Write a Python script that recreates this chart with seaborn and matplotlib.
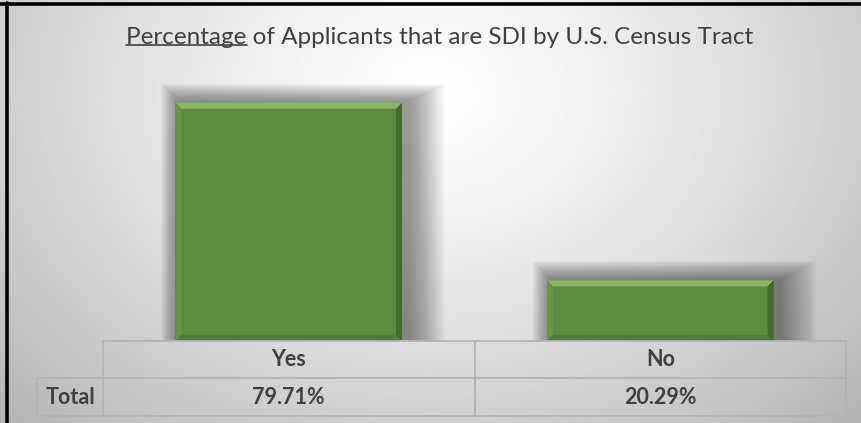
import numpy as np
import pandas as pd
import matplotlib
matplotlib.use("Agg")
import matplotlib.pyplot as plt
import seaborn as sns
from matplotlib.patches import Rectangle, Polygon
from matplotlib.lines import Line2D
import matplotlib.transforms as mtransforms

# data
categories = ["Yes", "No"]
percentages = [79.71, 20.29]
row_label = "Total"
title = "Percentage of Applicants that are SDI by U.S. Census Tract"
title_underlined = "Percentage"

df = pd.DataFrame({"answer": categories, "pct": percentages})

sns.set_style("white")
plt.rcParams["font.family"] = ["Lato", "DejaVu Sans"]

W, H = 861, 423
fig = plt.figure(figsize=(W / 100, H / 100), dpi=100)

# background gradient
bg = fig.add_axes([0, 0, 1, 1], zorder=-10)
yy, xx = np.mgrid[0:1:300j, 0:1:600j]
r = np.sqrt(((xx - 0.5) / 0.6) ** 2 + ((yy - 0.22) / 0.95) ** 2)
v = 1.0 - 0.24 * np.clip(r, 0, 1.2) ** 1.3
bg.imshow(v, cmap="gray", vmin=0, vmax=1, aspect="auto", extent=[0, 1, 1, 0])
bg.set_xlim(0, 1)
bg.set_ylim(1, 0)
bg.axis("off")

# outer frame (top and left)
fig.add_artist(Line2D([0, 1], [1 - 4.5 / H, 1 - 4.5 / H], color="black", lw=2.6))
fig.add_artist(Line2D([6.5 / W, 6.5 / W], [0, 1 - 3 / H], color="black", lw=2.6))

left, right = 103 / W, 846 / W
bottom, top = 1 - 341 / H, 1 - 72 / H
ax = fig.add_axes([left, bottom, right - left, top - bottom])
ax.patch.set_alpha(0)

sns.barplot(data=df, x="answer", y="pct", color="#5b8b3d", width=0.61,
            saturation=1, linewidth=0, ax=ax, zorder=5)
ax.set_xlim(-0.5, 1.5)
ax.set_ylim(0, 90)
ax.axis("off")

# pixel -> data sizes
px_x = 2.0 / (W * (right - left))
px_y = 90.0 / (H * (top - bottom))

for p in list(ax.patches)[:len(categories)]:
    x0, w, h = p.get_x(), p.get_width(), p.get_height()
    # soft shadow, stronger to the right
    n = 36
    for k in range(n):
        ax.add_patch(Rectangle((x0 + 3 * px_x - k * 0.5 * px_x, 0),
                               w + 5 * px_x + k * 1.5 * px_x, h + 2 * px_y + k * 0.5 * px_y,
                               color="black", alpha=0.01, lw=0, zorder=2))
    b = 6
    bx, by = b * px_x, b * px_y
    ax.add_patch(Polygon([(x0, h), (x0 + w, h), (x0 + w - bx, h - by), (x0 + bx, h - by)],
                         color="#86b868", lw=0, zorder=6))
    ax.add_patch(Polygon([(x0 + w, h), (x0 + w, 0), (x0 + w - bx, by), (x0 + w - bx, h - by)],
                         color="#416c2b", lw=0, zorder=6))
    ax.add_patch(Polygon([(x0, h), (x0, 0), (x0 + bx, by), (x0 + bx, h - by)],
                         color="#659645", lw=0, zorder=6))
    ax.add_patch(Polygon([(x0, 0), (x0 + w, 0), (x0 + w - bx, by), (x0 + bx, by)],
                         color="#4f7d36", lw=0, zorder=6))

# data table under the bars
line_c = "#b4b4b4"
txt_c = "#404040"
y_head_top, y_mid, y_bot = 1 - 341 / H, 1 - 378 / H, 1 - 416 / H
x_label_left = 37 / W
mid_x = 475 / W
for yv, x_a in [(y_head_top, left), (y_mid, x_label_left), (y_bot, x_label_left)]:
    fig.add_artist(Line2D([x_a, right], [yv, yv], color=line_c, lw=1.3))
for xv, y_a in [(left, y_head_top), (mid_x, y_head_top), (right, y_head_top), (x_label_left, y_mid)]:
    fig.add_artist(Line2D([xv, xv], [y_a, y_bot], color=line_c, lw=1.3))

trans = mtransforms.blended_transform_factory(ax.transData, fig.transFigure)
for i, (cat, val) in enumerate(zip(categories, percentages)):
    ax.text(i, (y_head_top + y_mid) / 2, cat, transform=trans, ha="center", va="center",
            fontsize=15.5, fontweight="bold", color=txt_c, clip_on=False)
    ax.text(i, (y_mid + y_bot) / 2, f"{val:.2f}%", transform=trans, ha="center", va="center",
            fontsize=15.5, fontweight="bold", color=txt_c, clip_on=False)
fig.text((x_label_left + left) / 2, (y_mid + y_bot) / 2, row_label, ha="center", va="center",
         fontsize=15.5, fontweight="bold", color=txt_c)

# title with underlined first word
t = fig.text(440 / W, 1 - 38 / H, title, ha="center", va="center", fontsize=17.5, color="#404040")
fig.canvas.draw()
renderer = fig.canvas.get_renderer()
tb = t.get_window_extent(renderer)
t2 = fig.text(tb.x0 / W, 1 - 38 / H, title_underlined, ha="left", va="center", fontsize=17.5)
tb2 = t2.get_window_extent(renderer)
t2.remove()
uy = (tb.y0 + 3) / H
fig.add_artist(Line2D([tb2.x0 / W, tb2.x1 / W], [uy, uy], color="#404040", lw=1.2))

fig.savefig("out.png", dpi=100)
